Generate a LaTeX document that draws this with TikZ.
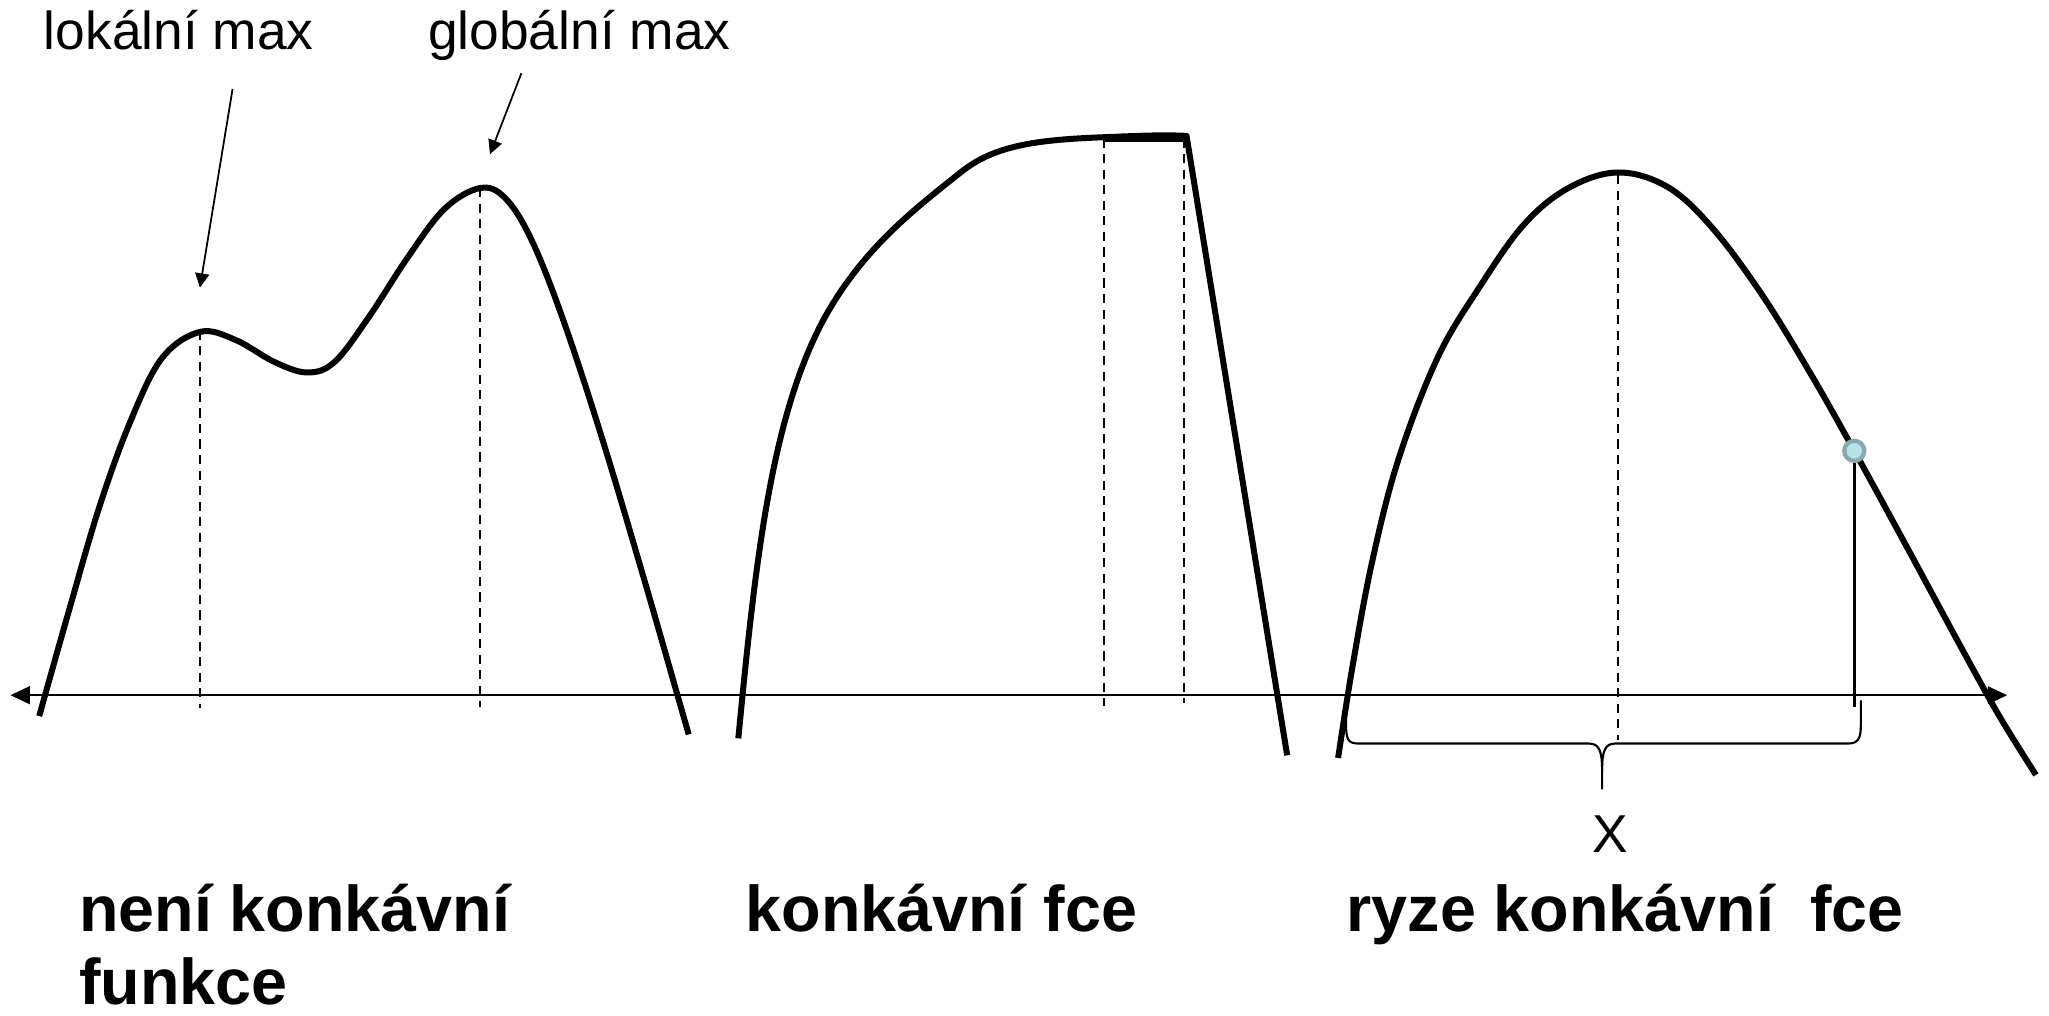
\documentclass[tikz,border=0pt]{standalone}
\usepackage{fontspec}
\setmainfont{Liberation Sans}
\usetikzlibrary{arrows.meta}
\definecolor{ptedge}{HTML}{8AA8AD}
\definecolor{ptfill}{HTML}{B8E2E6}
\begin{document}
\begin{tikzpicture}[x=0.013cm,y=-0.013cm,
  curve/.style={line width=1.7pt, line join=round},
  guide/.style={line width=0.55pt, dash pattern=on 2.6pt off 1.8pt},
  axis/.style={line width=0.7pt},
  lbl/.style={font=\fontsize{15.1}{18}\selectfont, inner sep=0pt, anchor=base west},
  ttl/.style={font=\fontsize{18.3}{22}\selectfont\bfseries, inner sep=0pt, anchor=base west},
  ptr/.style={line width=0.5pt, -{Triangle[length=4pt,width=4pt]}},
  brc/.style={line width=0.6pt, line join=round}
]
\useasboundingbox (0,0) rectangle (1568,777);

% axis
\draw[axis, {Triangle[length=5.5pt,width=5pt]}-{Triangle[length=5.5pt,width=5pt]}] (8,532) -- (1536,532);

% labels at top
\node[lbl] (lok) at (33,38) {lokální max};
\node[lbl] (glob) at (327,38) {globální max};

% key points
\coordinate (lpk) at (153,253);
\coordinate (gpk) at (367,144);
\coordinate (lstart) at (178,68);
\coordinate (lend) at (153,220);
\coordinate (gstart) at (399,56);
\coordinate (gend) at (375,118);

\draw[ptr] (lstart) -- (lend);
\draw[ptr] (gstart) -- (gend);

% curve 1 (not concave)
\draw[curve] plot[smooth, tension=0.6] coordinates {
  (30,548) (52,470) (76,388) (100,322) (124,274) (153,254) (180,260)
  (210,277) (235,285) (256,277) (282,243) (312,197) (340,160) (367,144)
  (386,151) (406,182) (430,242) (460,333) (494,447) (527,562)};
\draw[guide] (lpk) -- (153,542);
\draw[guide] (gpk) -- (367,541);

% curve 2 (concave)
\draw[curve] (565,565) .. controls (578,430) and (590,320) .. (630,245)
  .. controls (660,190) and (700,160) .. (735,132)
  .. controls (760,112) and (790,107) .. (845,105)
  .. controls (870,104) and (890,103) .. (908,104)
  -- (985,578);
\draw[curve] (845,106) -- (908,106);
\draw[guide] (845,106) -- (845,540);
\draw[guide] (906,106) -- (906,538);

% curve 3 (strictly concave)
\draw[curve] plot[smooth, tension=0.6] coordinates {
  (1024,580) (1035,510) (1050,430) (1070,352) (1100,274) (1132,220)
  (1166,172) (1200,144) (1238,132) (1276,143) (1310,174) (1348,225)
  (1385,285) (1419,345) (1460,420) (1500,494) (1530,548) (1558,593)};
\draw[guide] (1238,134) -- (1238,566);

% point and vertical
\node (pt) [circle, draw=ptedge, fill=ptfill, line width=1.2pt, minimum size=0.2cm, inner sep=0pt] at (1419,345) {};
\coordinate (pbase) at (1419,541);
\draw[line width=1pt] (pt.south) -- (pbase);

% brace
\coordinate (btip) at (1226,604);
\draw[brc] (1030,551) .. controls (1030,566) and (1031,569) .. (1040,569) -- (1216,569)
  .. controls (1224,569) and (1226,575) .. (1226,590) -- (btip);
\draw[brc] (1226,590) .. controls (1226,575) and (1228,569) .. (1236,569) -- (1414,569)
  .. controls (1422,569) and (1424,565) .. (1424,555) -- (1424,536);
\node[lbl, anchor=base] (xl) at (1232,652) {X};

% titles
\node[ttl] (t1a) at (60,713) {není konkávní};
\node[ttl] (t1b) at (60,769) {funkce};
\node[ttl] (t2) at (570,713) {konkávní fce};
\node[ttl] (t3) at (1030,713) {ryze konkávní\ \ fce};
\end{tikzpicture}
\end{document}
